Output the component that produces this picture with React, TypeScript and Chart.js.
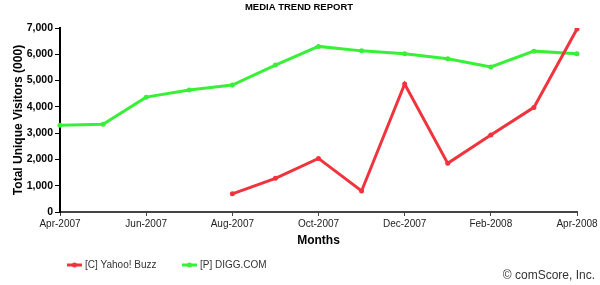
import React, { useEffect, useRef } from "react";
import { Chart, registerables } from "chart.js";

Chart.register(...registerables);

const chartTitle = "MEDIA TREND REPORT";
const yAxisTitle = "Total Unique Visitors (000)";
const xAxisTitle = "Months";
const creditText = "© comScore, Inc.";

const months = [
  "Apr-2007", "May-2007", "Jun-2007", "Jul-2007", "Aug-2007", "Sep-2007", "Oct-2007",
  "Nov-2007", "Dec-2007", "Jan-2008", "Feb-2008", "Mar-2008", "Apr-2008",
];
const yahooBuzz = [null, null, null, null, 690, 1280, 2040, 800, 4870, 1850, 2930, 3980, 6960];
const diggCom = [3300, 3340, 4370, 4640, 4830, 5590, 6300, 6130, 6020, 5830, 5520, 6120, 6020];
const seriesNames = ["[C] Yahoo! Buzz", "[P] DIGG.COM"];
const seriesColors = ["#f0343e", "#38f038"];
const yMax = 7000;
const yStep = 1000;

const FONT = '"Liberation Sans", Arial, sans-serif';

const overlayPlugin = {
  id: "overlay",
  afterDraw(chart: any) {
    const ctx = chart.ctx as CanvasRenderingContext2D;
    ctx.save();
    // title
    ctx.fillStyle = "#000";
    ctx.font = `bold 9.5px ${FONT}`;
    ctx.textAlign = "center";
    ctx.textBaseline = "middle";
    ctx.fillText(chartTitle, 299, 7);

    // legend
    const legendX = [67, 182];
    const legendY = 265;
    chart.data.datasets.forEach((ds: any, i: number) => {
      const x = legendX[i];
      ctx.strokeStyle = ds.borderColor;
      ctx.lineWidth = 3;
      ctx.beginPath();
      ctx.moveTo(x, legendY);
      ctx.lineTo(x + 15, legendY);
      ctx.stroke();
      ctx.fillStyle = ds.borderColor;
      ctx.beginPath();
      ctx.arc(x + 7.5, legendY, 2.5, 0, Math.PI * 2);
      ctx.fill();
      ctx.fillStyle = "#333";
      ctx.font = `10px ${FONT}`;
      ctx.textAlign = "left";
      ctx.textBaseline = "middle";
      ctx.fillText(ds.label, x + 18, legendY);
    });

    // credit
    ctx.fillStyle = "#333";
    ctx.font = `12px ${FONT}`;
    ctx.textAlign = "right";
    ctx.textBaseline = "middle";
    ctx.fillText(creditText, 595, 276);
    ctx.restore();
  },
};

export default function App() {
  const canvasRef = useRef<HTMLCanvasElement | null>(null);

  useEffect(() => {
    if (!canvasRef.current) return;
    const chart = new Chart(canvasRef.current, {
      type: "line",
      data: {
        labels: months,
        datasets: [
          {
            label: seriesNames[0],
            data: yahooBuzz,
            borderColor: seriesColors[0],
            backgroundColor: seriesColors[0],
            borderWidth: 3,
            pointRadius: 2.5,
            pointBorderWidth: 0,
            tension: 0,
            spanGaps: false,
          },
          {
            label: seriesNames[1],
            data: diggCom,
            borderColor: seriesColors[1],
            backgroundColor: seriesColors[1],
            borderWidth: 3,
            pointRadius: 2.5,
            pointBorderWidth: 0,
            tension: 0,
          },
        ],
      },
      options: {
        responsive: false,
        animation: false,
        layout: { padding: { left: 0, top: 28, right: 23, bottom: 33 } },
        plugins: {
          legend: { display: false },
          title: { display: false },
          tooltip: { enabled: false },
        },
        scales: {
          x: {
            type: "category",
            offset: false,
            afterFit: (scale: any) => {
              scale.height = 40;
            },
            border: { display: true, color: "#444", width: 2 },
            grid: {
              display: true,
              drawOnChartArea: false,
              drawTicks: true,
              tickLength: 4,
              color: "#444",
            },
            ticks: {
              autoSkip: false,
              maxRotation: 0,
              padding: 2,
              color: "#222",
              font: { family: FONT, size: 10 },
              callback: function (this: any, value: any, index: number) {
                return index % 2 === 0 ? months[index] : null;
              },
            },
            title: {
              display: true,
              text: xAxisTitle,
              color: "#000",
              font: { family: FONT, size: 12, weight: "bold" },
              padding: { top: 0, bottom: 4 },
            },
          },
          y: {
            min: 0,
            max: yMax,
            afterFit: (scale: any) => {
              scale.width = 60;
            },
            border: { display: true, color: "#000", width: 2 },
            grid: {
              display: true,
              drawOnChartArea: false,
              drawTicks: true,
              tickLength: 5,
              color: "#000",
            },
            ticks: {
              stepSize: yStep,
              padding: 2,
              color: "#000",
              font: { family: FONT, size: 10.5, weight: "bold" },
              callback: (v: any) => Number(v).toLocaleString("en-US"),
            },
            title: {
              display: true,
              text: yAxisTitle,
              color: "#000",
              font: { family: FONT, size: 12, weight: "bold" },
              padding: { top: 11, bottom: 0 },
            },
          },
        },
      },
      plugins: [overlayPlugin],
    } as any);
    return () => chart.destroy();
  }, []);

  return (
    <div style={{ position: "fixed", left: 0, top: 0, width: 600, height: 285, background: "#fff" }}>
      <canvas ref={canvasRef} width={600} height={285} style={{ width: 600, height: 285 }} />
    </div>
  );
}
